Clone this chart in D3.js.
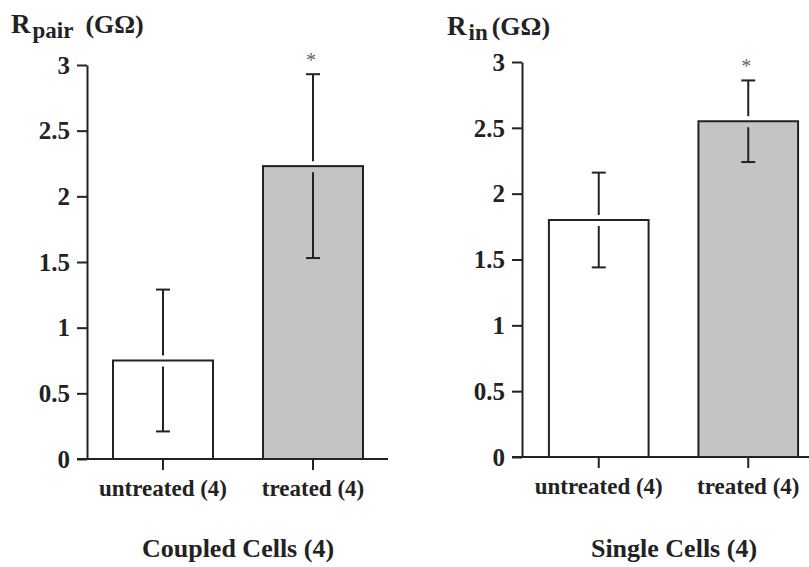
<!DOCTYPE html>
<html>
<head>
<meta charset="utf-8">
<script src="https://cdn.jsdelivr.net/npm/d3@7"></script>
<style>
  html, body { margin: 0; padding: 0; background: #fff; }
  svg { display: block; }
</style>
</head>
<body>
<svg id="chart" width="809" height="567"></svg>
<script>
const categories = ["untreated (4)", "treated (4)"];
const coupledMeans = [0.75, 2.23];
const coupledErrors = [0.54, 0.70];
const singleMeans = [1.80, 2.55];
const singleErrors = [0.36, 0.31];
const yTicks = [0, 0.5, 1, 1.5, 2, 2.5, 3];
const barFills = ["#ffffff", "#c4c4c4"];
const significant = [false, true];

const svg = d3.select("#chart");
const ink = "#222";
const serif = "'Liberation Serif', 'Times New Roman', serif";

function drawPanel(cfg) {
	const g = svg.append("g")
		.attr("font-family", serif)
		.attr("font-weight", "bold");

	const y = d3.scaleLinear().domain([0, 3]).range([cfg.yBottom, cfg.yTop]);
	const x = d3.scaleBand().domain(categories).range([cfg.x0, cfg.x1]).paddingInner(1 / 3).paddingOuter(1 / 6);

	// y axis
	const yAxis = g.append("g")
		.attr("transform", `translate(${cfg.axisX},0)`)
		.call(d3.axisLeft(y).tickValues(yTicks).tickSize(10).tickSizeOuter(0).tickPadding(7).tickFormat(d3.format("~g")));
	yAxis.attr("font-family", serif).attr("font-size", 25).attr("font-weight", "bold");
	yAxis.selectAll("path, line").attr("stroke", ink).attr("stroke-width", 2);
	yAxis.selectAll("text").attr("fill", ink).attr("dy", "0.33em");

	// x axis (domain drawn separately so it reaches past the y axis)
	const xAxis = g.append("g")
		.attr("transform", `translate(0,${cfg.yBottom})`)
		.call(d3.axisBottom(x).tickSize(11).tickSizeOuter(0).tickPadding(9));
	xAxis.attr("font-family", serif).attr("font-size", 23).attr("font-weight", "bold");
	xAxis.select(".domain").remove();
	xAxis.selectAll("line").attr("stroke", ink).attr("stroke-width", 2);
	xAxis.selectAll("text").attr("fill", ink).attr("dy", "0.72em");

	g.append("line")
		.attr("x1", cfg.axisX - 10).attr("x2", cfg.x1)
		.attr("y1", cfg.yBottom).attr("y2", cfg.yBottom)
		.attr("stroke", ink).attr("stroke-width", 2);

	// bars
	g.selectAll("rect.bar")
		.data(cfg.means)
		.enter()
		.append("rect")
		.attr("class", "bar")
		.attr("x", (_, i) => x(categories[i]))
		.attr("y", (d) => y(d))
		.attr("width", x.bandwidth())
		.attr("height", (d) => y(0) - y(d))
		.attr("fill", (_, i) => barFills[i])
		.attr("stroke", ink)
		.attr("stroke-width", 2);

	// error bars, with a small break where they cross the bar top
	const capW = 7;
	cfg.means.forEach((m, i) => {
		const cx = x(categories[i]) + x.bandwidth() / 2;
		const top = y(m + cfg.errors[i]);
		const bot = y(m - cfg.errors[i]);
		const barTop = y(m);
		const eb = g.append("g").attr("stroke", ink).attr("stroke-width", 2);
		eb.append("line").attr("x1", cx).attr("x2", cx).attr("y1", top).attr("y2", barTop - 5);
		eb.append("line").attr("x1", cx).attr("x2", cx).attr("y1", barTop + 6).attr("y2", bot);
		eb.append("line").attr("x1", cx - capW).attr("x2", cx + capW).attr("y1", top).attr("y2", top);
		eb.append("line").attr("x1", cx - capW).attr("x2", cx + capW).attr("y1", bot).attr("y2", bot);

		if (significant[i]) {
			g.append("text")
				.attr("x", cx - 2)
				.attr("y", top - 7)
				.attr("text-anchor", "middle")
				.attr("font-size", 20)
				.attr("font-weight", "normal")
				.attr("fill", "#666")
				.text("*");
		}
	});

	// y title with subscript
	const t = g.append("text").attr("x", cfg.titleX).attr("y", cfg.titleY).attr("fill", ink);
	t.append("tspan").attr("font-size", 27).text("R");
	t.append("tspan").attr("font-size", 23).attr("dx", 2).attr("dy", 5).text(cfg.sub);
	t.append("tspan").attr("font-size", 26).attr("dx", cfg.unitGap).attr("dy", -5).text("(GΩ)");

	// panel caption
	g.append("text")
		.attr("x", cfg.captionX)
		.attr("y", 557)
		.attr("text-anchor", "middle")
		.attr("font-size", 26)
		.attr("fill", ink)
		.text(cfg.caption);
}

drawPanel({
	means: coupledMeans, errors: coupledErrors,
	axisX: 87, x0: 88, x1: 388, yTop: 65, yBottom: 459,
	titleX: 11, titleY: 33, sub: "pair", unitGap: 12,
	caption: "Coupled Cells (4)", captionX: 238
});

drawPanel({
	means: singleMeans, errors: singleErrors,
	axisX: 522, x0: 524, x1: 823, yTop: 62, yBottom: 457,
	titleX: 447, titleY: 35, sub: "in", unitGap: 4,
	caption: "Single Cells (4)", captionX: 674
});
</script>
</body>
</html>
